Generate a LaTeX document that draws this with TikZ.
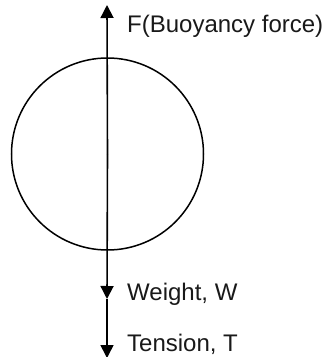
\documentclass[tikz,border=0pt]{standalone}
\usepackage{fontspec}
\setmainfont{Liberation Sans}
\usetikzlibrary{arrows.meta}
\tikzset{
  force/.style={line width=1.6pt, -{Triangle[width=13pt,length=13pt]}},
  lbl/.style={inner sep=0pt, anchor=base west, font=\fontsize{24pt}{27pt}\selectfont, text=black!90}
}
\begin{document}
\begin{tikzpicture}[x=1pt,y=-1pt]
\useasboundingbox (0,0) rectangle (326,357);
\coordinate (ctr) at (107.5,154);
\coordinate (top) at (107,5);
\coordinate (wtip) at (107,299);
\coordinate (ttip) at (107,358);
\draw[line width=1.5pt] (ctr) circle[radius=96];
\draw[force] (ctr) -- (top);
\draw[force] (ctr) -- (wtip);
\draw[force] (wtip) -- (ttip);
\node[lbl] (F) at (127,32) {F(Buoyancy force)};
\node[lbl] (W) at (127,300) {Weight, W};
\node[lbl] (T) at (127,351) {Tension, T};
\end{tikzpicture}
\end{document}
